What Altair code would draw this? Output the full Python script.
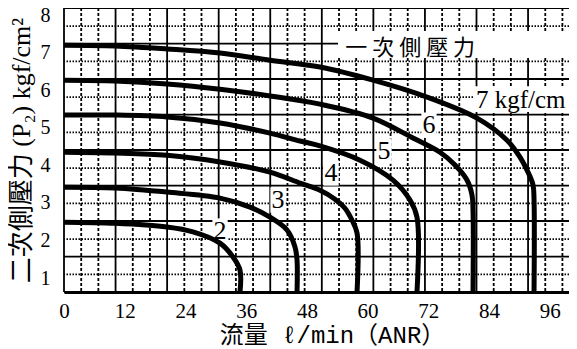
import altair as alt
import pandas as pd

# ---- axis tick labels ----
x_ticks = [0, 12, 24, 36, 48, 60, 72, 84, 96]
y_ticks = [1, 2, 3, 4, 5, 6, 7, 8]

# ---- curves: flow (l/min ANR) vs secondary pressure (kgf/cm2) ----
flow_2 = [0, 10.08, 20.36, 25.49, 30.83, 33.40, 34.78, 34.78]
pres_2 = [2.49, 2.46, 2.36, 2.23, 1.93, 1.56, 1.21, 0.63]

flow_3 = [0, 10.08, 20.36, 30.83, 36.76, 40.71, 44.07, 45.65, 46.05, 46.05]
pres_3 = [3.42, 3.40, 3.29, 3.13, 2.89, 2.62, 2.28, 1.83, 1.48, 0.63]

flow_4 = [0, 10.08, 20.36, 30.83, 40.71, 46.64, 50.59, 53.56, 55.53, 56.92, 57.91, 57.91]
pres_4 = [4.35, 4.33, 4.27, 4.09, 3.82, 3.53, 3.34, 3.10, 2.86, 2.54, 2.20, 0.63]

flow_5 = [0, 10.08, 20.36, 30.83, 40.71, 46.64, 50.59, 58.50, 65.02, 68.38, 69.76, 69.76]
pres_5 = [5.34, 5.34, 5.29, 5.13, 4.86, 4.65, 4.52, 4.14, 3.61, 3.08, 2.62, 0.63]

flow_6 = [0, 10.08, 20.36, 30.83, 40.71, 50.59, 61.07, 68.97, 74.31, 77.27, 79.64, 80.63, 80.83, 80.83]
pres_6 = [6.27, 6.25, 6.17, 6.03, 5.85, 5.63, 5.26, 4.73, 4.35, 4.01, 3.61, 3.21, 2.81, 0.63]

flow_7 = [0, 10.08, 20.36, 30.83, 40.71, 50.59, 61.07, 71.74, 81.62, 87.55, 90.12, 91.70, 92.69, 92.89, 92.89]
pres_7 = [7.20, 7.18, 7.10, 6.99, 6.80, 6.62, 6.27, 5.82, 5.26, 4.67, 4.22, 3.82, 3.48, 3.08, 0.63]

curves = {"2": (flow_2, pres_2), "3": (flow_3, pres_3), "4": (flow_4, pres_4),
          "5": (flow_5, pres_5), "6": (flow_6, pres_6), "7": (flow_7, pres_7)}

# ---- curve labels ----
label_text = ["2", "3", "4", "5", "6"]
label_flow = [30.83, 42.29, 52.77, 63.24, 72.13]
label_pres = [2.25, 3.08, 3.80, 4.38, 5.07]
unit_label = ["7 kgf/cm"]
unit_flow = [81.4]
unit_pres = [5.74]

legend_text = ["一 次 側 壓 力"]
legend_flow = [55.6]
legend_pres = [7.12]

# ---- grid lines ----
x_major = [0, 10.19, 20.38, 30.57, 40.76, 50.95, 61.14, 71.33, 81.52, 91.71]
x_minor = [3.40, 6.79, 13.59, 16.98, 23.78, 27.17, 33.97, 37.36, 44.16, 47.55,
           54.35, 57.74, 64.54, 67.93, 74.73, 78.12, 84.92, 88.31, 95.11, 98.50]
y_major = [0.63, 1.57, 2.52, 3.46, 4.41, 5.35, 6.30, 7.24, 8.19]
y_minor = [1.10, 2.04, 2.99, 3.93, 4.88, 5.82, 6.77, 7.71]

X_DOMAIN = [0, 99.8]
Y_DOMAIN = [0.63, 8.19]

rows = []
for name, (fl, pr) in curves.items():
    for i, (a, b) in enumerate(zip(fl, pr)):
        rows.append({"curve": name, "seq": i, "flow": a, "pres": b})
curve_df = pd.DataFrame(rows)

SERIF = "Liberation Serif, DejaVu Serif, serif"
SERIF_CJK = "Liberation Serif, Noto Sans CJK TC"

xs = alt.Scale(domain=X_DOMAIN, nice=False, zero=False)
ys = alt.Scale(domain=Y_DOMAIN, nice=False, zero=False)

x_axis = alt.Axis(values=x_ticks, grid=False, ticks=False, domain=True, domainWidth=3,
                  domainColor="black", labelFont=SERIF, labelFontSize=21,
                  labelColor="black", labelPadding=8, labelFlush=False, labelOverlap=False,
                  title="流量 ℓ/min（ANR）", titleFont="Liberation Mono, Noto Sans CJK TC",
                  titleFontSize=24, titleFontWeight="normal", titleColor="black",
                  titleX=268, titleY=50, titleAlign="center", titleBaseline="alphabetic")
y_axis = alt.Axis(values=y_ticks, grid=False, ticks=False, domain=False,
                  labelFont=SERIF, labelFontSize=20, labelColor="black",
                  labelPadding=14, labelFlush=False, labelOverlap=False,
                  title="二次側壓力 (P₂)   kgf/cm²", titleFont=SERIF_CJK,
                  titleFontSize=26, titleFontWeight="normal", titleColor="black",
                  titleX=-43, titleY=142, titleAngle=270, titleAlign="center",
                  titleBaseline="middle")

X = lambda f: alt.X(f, type="quantitative", scale=xs, axis=x_axis)
Y = lambda f: alt.Y(f, type="quantitative", scale=ys, axis=y_axis)

vminor = alt.Chart(pd.DataFrame({"g": x_minor})).mark_rule(
    color="black", strokeWidth=1.8, strokeDash=[3, 2]).encode(x=X("g"))
hminor = alt.Chart(pd.DataFrame({"g": y_minor})).mark_rule(
    color="black", strokeWidth=1.8, strokeDash=[1.5, 1.5]).encode(y=Y("g"))
vmajor = alt.Chart(pd.DataFrame({"g": x_major})).mark_rule(
    color="black", strokeWidth=1.8).encode(x=X("g"))
hmajor = alt.Chart(pd.DataFrame({"g": y_major})).mark_rule(
    color="black", strokeWidth=1.8).encode(y=Y("g"))

box_df = pd.DataFrame({"x1": [54.15, 80.9], "x2": [99.8, 99.8],
                       "y1": [7.58, 6.11], "y2": [6.86, 5.42]})
boxes = alt.Chart(box_df).mark_rect(fill="white").encode(
    x=X("x1"), x2="x2", y=Y("y1"), y2="y2")

lab_df = pd.DataFrame({"t": label_text, "flow": label_flow, "pres": label_pres})
lab_bg = alt.Chart(lab_df).mark_point(
    shape="M-0.6,-1H0.6V1H-0.6Z", filled=True, fill="white", opacity=1,
    strokeWidth=0, size=650).encode(x=X("flow"), y=Y("pres"))

lines = alt.Chart(curve_df).mark_line(
    color="black", strokeWidth=5, interpolate="catmull-rom").encode(
    x=X("flow"), y=Y("pres"), detail="curve:N", order="seq:Q")

lab_txt = alt.Chart(lab_df).mark_text(
    font=SERIF, fontSize=26, color="black", align="center",
    baseline="middle").encode(x=X("flow"), y=Y("pres"), text="t:N")

unit_txt = alt.Chart(pd.DataFrame({"t": unit_label, "flow": unit_flow, "pres": unit_pres})).mark_text(
    font=SERIF, fontSize=25, color="black", align="left",
    baseline="middle").encode(x=X("flow"), y=Y("pres"), text="t:N")

leg_txt = alt.Chart(pd.DataFrame({"t": legend_text, "flow": legend_flow, "pres": legend_pres})).mark_text(
    font="Noto Sans CJK TC", fontSize=22, color="black", align="left",
    baseline="middle").encode(x=X("flow"), y=Y("pres"), text="t:N")

chart = alt.layer(vminor, hminor, vmajor, hmajor, boxes, lab_bg, lines,
                  lab_txt, unit_txt, leg_txt).properties(
    width=505, height=284,
    autosize=alt.AutoSizeParams(type="none"),
    padding={"left": 56, "top": 0, "right": 0, "bottom": 57},
    background="white",
).configure_view(stroke=None).configure_axis(labelFont=SERIF)

chart.save("out.html", embed_options={"renderer": "svg", "actions": False})
